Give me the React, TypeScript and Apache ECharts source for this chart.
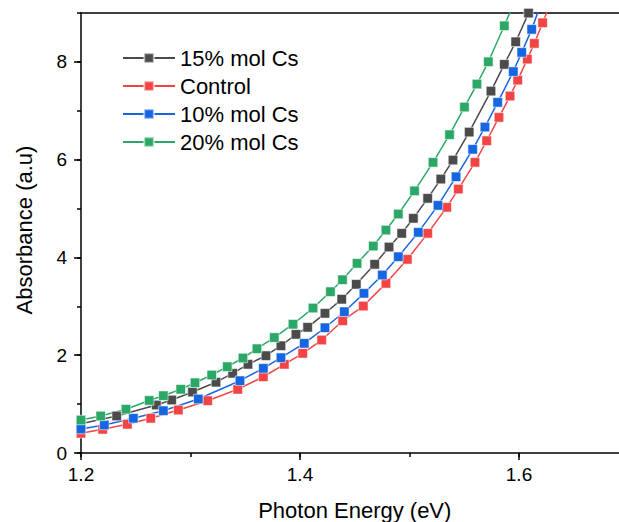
import React, { useEffect, useRef } from "react";
import * as echarts from "echarts";

const seriesNames = ["15% mol Cs", "Control", "10% mol Cs", "20% mol Cs"];

const cs15Energy = [1.2, 1.2326, 1.2688, 1.2828, 1.3018, 1.3233, 1.3385, 1.3525, 1.3689, 1.3826, 1.3963, 1.407, 1.4228, 1.4381, 1.4514, 1.4682, 1.4813, 1.4929, 1.5035, 1.5166, 1.5286, 1.5397, 1.5545, 1.5744, 1.5866, 1.597, 1.6087, 1.6128];
const cs15Abs = [0.6, 0.757, 0.982, 1.084, 1.247, 1.448, 1.63, 1.814, 1.99, 2.194, 2.427, 2.571, 2.857, 3.145, 3.45, 3.859, 4.213, 4.493, 4.8, 5.209, 5.603, 5.992, 6.564, 7.403, 7.949, 8.411, 8.998, 9.22];

const controlEnergy = [1.2, 1.2198, 1.2423, 1.2637, 1.2889, 1.3157, 1.3431, 1.3665, 1.3857, 1.4025, 1.4198, 1.439, 1.4578, 1.4785, 1.498, 1.5166, 1.534, 1.5446, 1.5598, 1.5705, 1.5817, 1.5918, 1.5988, 1.6076, 1.614, 1.6216, 1.6283];
const controlAbs = [0.403, 0.485, 0.587, 0.71, 0.879, 1.07, 1.303, 1.56, 1.814, 2.039, 2.311, 2.706, 3.006, 3.47, 3.961, 4.493, 5.025, 5.399, 5.945, 6.387, 6.865, 7.301, 7.628, 8.057, 8.378, 8.8, 9.18];

const cs10Energy = [1.2, 1.2213, 1.2478, 1.2752, 1.3071, 1.3452, 1.3665, 1.3826, 1.4039, 1.4228, 1.4405, 1.4584, 1.4752, 1.4898, 1.508, 1.526, 1.5425, 1.5577, 1.5689, 1.5805, 1.5948, 1.6025, 1.6116, 1.6192];
const cs10Abs = [0.491, 0.573, 0.71, 0.865, 1.104, 1.479, 1.732, 1.949, 2.243, 2.562, 2.89, 3.266, 3.64, 4.014, 4.513, 5.065, 5.65, 6.211, 6.667, 7.172, 7.802, 8.194, 8.665, 9.14];

const cs20Energy = [1.2, 1.218, 1.2411, 1.2623, 1.2752, 1.2911, 1.3041, 1.3194, 1.3336, 1.3479, 1.3607, 1.3765, 1.3936, 1.4119, 1.4278, 1.4388, 1.4521, 1.4669, 1.4785, 1.4898, 1.5046, 1.5215, 1.5366, 1.5502, 1.5616, 1.572, 1.5866, 1.5945];
const cs20Abs = [0.675, 0.757, 0.896, 1.074, 1.172, 1.303, 1.436, 1.595, 1.765, 1.943, 2.133, 2.362, 2.634, 2.965, 3.299, 3.544, 3.879, 4.233, 4.56, 4.888, 5.362, 5.945, 6.511, 7.076, 7.546, 8.002, 8.738, 9.16];

const xMajorTicks = [1.2, 1.4, 1.6];
const yMajorTicks = [0, 2, 4, 6, 8];

const seriesEnergy = [cs15Energy, controlEnergy, cs10Energy, cs20Energy];
const seriesAbs = [cs15Abs, controlAbs, cs10Abs, cs20Abs];
const colors = ["#4b4b4b", "#f24444", "#1666e2", "#2ba866"];

const FONT = "Liberation Sans, Arial, sans-serif";

export default function App() {
  const ref = useRef<HTMLDivElement>(null);
  useEffect(() => {
    if (!ref.current) return;
    const chart = echarts.init(ref.current, null, { renderer: "svg" });
    const series = seriesNames.map((name, i) => ({
      name,
      type: "line",
      xAxisIndex: 0,
      yAxisIndex: 0,
      data: seriesEnergy[i].map((e, j) => [e, seriesAbs[i][j]]),
      symbol: "rect",
      symbolSize: 9.5,
      showSymbol: true,
      clip: true,
      lineStyle: { color: colors[i], width: 1.5 },
      itemStyle: { color: colors[i], borderColor: "rgba(255,255,255,0.55)", borderWidth: 1 },
      emphasis: { disabled: true },
    }));
    chart.setOption({
      animation: false,
      backgroundColor: "#ffffff",
      grid: { left: 81, top: 13, right: -9.5, bottom: 69, outerBoundsMode: "none", containLabel: false },
      legend: {
        data: seriesNames,
        orient: "vertical",
        left: 122,
        top: 47,
        padding: 0,
        itemWidth: 52,
        itemHeight: 12,
        itemGap: 6,
        itemTextGap: 7,
        textStyle: { fontFamily: FONT, fontSize: 22, color: "#000" },
      },
      xAxis: [
        {
          type: "value",
          min: 1.2,
          max: 1.7,
          interval: 0.2,
          position: "bottom",
          name: "Photon Energy (eV)",
          nameLocation: "middle",
          nameGap: 46,
          nameTextStyle: { fontFamily: FONT, fontSize: 22, color: "#000" },
          axisLine: { show: true, lineStyle: { color: "#000", width: 1.5 } },
          axisTick: { show: true, length: 7, inside: false, customValues: xMajorTicks, lineStyle: { color: "#000", width: 1.5 } },
          axisLabel: { customValues: xMajorTicks, margin: 12, fontFamily: FONT, fontSize: 19, color: "#000" },
          splitLine: { show: false },
        },
        {
          type: "value",
          min: 1.2,
          max: 1.7,
          interval: 0.1,
          position: "bottom",
          axisLine: { show: false },
          axisTick: { show: true, length: 4, lineStyle: { color: "#000", width: 1.5 } },
          axisLabel: { show: false },
          splitLine: { show: false },
        },
        {
          type: "value",
          min: 1.2,
          max: 1.7,
          position: "top",
          axisLine: { show: true, lineStyle: { color: "#000", width: 1.5 } },
          axisTick: { show: false },
          axisLabel: { show: false },
          splitLine: { show: false },
        },
      ],
      yAxis: [
        {
          type: "value",
          min: 0,
          max: 9,
          interval: 2,
          position: "left",
          name: "Absorbance (a.u)",
          nameLocation: "middle",
          nameGap: 46,
          nameTextStyle: { fontFamily: FONT, fontSize: 22, color: "#000", padding: [0, 0, 0, 6] },
          axisLine: { show: true, lineStyle: { color: "#000", width: 1.5 } },
          axisTick: { show: true, length: 7, customValues: yMajorTicks, lineStyle: { color: "#000", width: 1.5 } },
          axisLabel: { customValues: yMajorTicks, margin: 14, fontFamily: FONT, fontSize: 19, color: "#000" },
          splitLine: { show: false },
        },
        {
          type: "value",
          min: 0,
          max: 9,
          interval: 1,
          position: "left",
          axisLine: { show: false },
          axisTick: { show: true, length: 4, lineStyle: { color: "#000", width: 1.5 } },
          axisLabel: { show: false },
          splitLine: { show: false },
        },
      ],
      series,
    });
    return () => chart.dispose();
  }, []);
  return (
    <div
      ref={ref}
      style={{ position: "fixed", left: 0, top: 0, width: 619, height: 522, background: "#fff" }}
    />
  );
}
